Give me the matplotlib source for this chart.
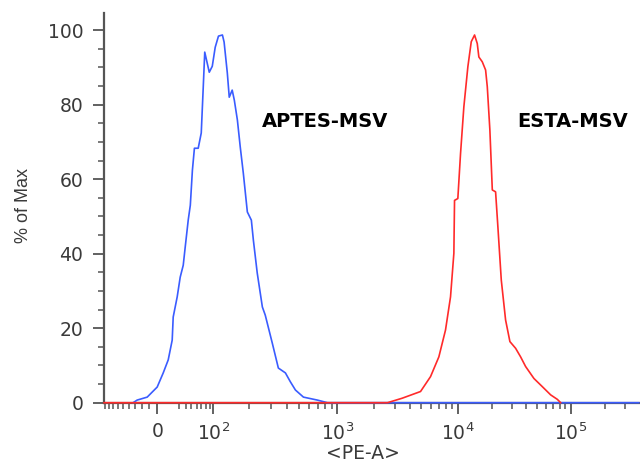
import numpy as np
import matplotlib
matplotlib.use('Agg')
import matplotlib.pyplot as plt
from matplotlib.ticker import FixedLocator, FixedFormatter

plt.rcParams['font.family'] = ['DejaVu Sans']
plt.rcParams['mathtext.fontset'] = 'dejavusans'

# APTES-MSV histogram: PE-A value vs % of max
aptes_pe = [-33, -27, -13, 0, 7.8, 14.4, 19.8, 21.2, 26.9, 31.4, 36.1, 39.3,
            44.4, 48.0, 51.8, 55.6, 63.2, 69.7, 74.2, 77.7, 89.0, 97.2, 104,
            111, 120, 124, 132, 137, 145, 151, 160, 169, 179, 193, 208, 216,
            232, 255, 269, 306, 342, 389, 426, 467, 540, 696, 835, 400000]
aptes_pct = [0, 0.7, 1.5, 4.2, 8.0, 11.5, 16.8, 23.0, 28.4, 33.7, 36.9, 41.8,
             49.1, 53.0, 62.4, 68.3, 68.3, 72.4, 84.7, 94.1, 88.7, 90.3, 95.4,
             98.4, 98.7, 96.8, 88.5, 82.0, 83.9, 81.2, 75.9, 68.6, 61.6, 51.2,
             49.0, 43.6, 34.8, 25.7, 23.5, 16.0, 9.3, 8.0, 5.6, 3.4, 1.5, 0.7,
             0, 0]

# ESTA-MSV histogram
esta_pe = [-92, 2610, 3460, 4920, 5960, 6990, 7940, 8740, 9320, 9440, 10060,
           10630, 11370, 12340, 13220, 14140, 14940, 15430, 16540, 17700,
           18320, 19310, 20290, 21690, 22730, 24360, 26590, 29030, 32610,
           36100, 39980, 47340, 56180, 66530, 76200, 81560]
esta_pct = [0, 0, 1.2, 3.0, 7.0, 12.3, 19.5, 28.4, 40.1, 54.3, 54.8, 66.9,
            79.4, 90.2, 96.9, 98.7, 96.4, 92.8, 91.5, 89.3, 84.8, 73.2, 57.1,
            56.6, 47.2, 32.9, 22.2, 16.4, 14.6, 12.3, 9.7, 6.5, 4.3, 2.1, 0.9, 0]

major_ticks = [0, 100, 1000, 10000, 100000]
major_labels = ['0', '$10^2$', '$10^3$', '$10^4$', '$10^5$']

# biexponential-like display scale (asinh, piecewise matched to decades)
anchor_x = np.array([-1000, -100, 0, 100, 1e3, 1e4, 1e5, 1e6])
anchor_u = np.arcsinh(anchor_x / 50.0)
anchor_p = np.array([-23, 101, 157, 213, 337, 457, 570, 683], dtype=float)


def fwd(x):
    return np.interp(np.arcsinh(np.asarray(x, dtype=float) / 50.0), anchor_u, anchor_p)


def inv(p):
    return 50.0 * np.sinh(np.interp(np.asarray(p, dtype=float), anchor_p, anchor_u))


fig = plt.figure(figsize=(6.4, 4.65), dpi=100)
ax = fig.add_axes([104 / 640, 62.3 / 465, 536 / 640, 389.7 / 465])
ax.set_xscale('function', functions=(fwd, inv))

ax.plot(aptes_pe, aptes_pct, color='#3a5cff', lw=1.2, clip_on=False, zorder=3)
ax.plot(esta_pe, esta_pct, color='#ff2a2a', lw=1.2, clip_on=False, zorder=3)

ax.set_xlim(-92, 4.1e5)
ax.set_ylim(0, 104.6)

minor = list(range(-90, 0, 10)) + list(range(30, 100, 10))
for d in [100, 1000, 10000, 100000]:
    minor += [k * d for k in range(2, 10) if k * d < 4e5]
ax.xaxis.set_major_locator(FixedLocator(major_ticks))
ax.xaxis.set_major_formatter(FixedFormatter(major_labels))
ax.xaxis.set_minor_locator(FixedLocator(minor))
ax.yaxis.set_major_locator(FixedLocator([0, 20, 40, 60, 80, 100]))
ax.yaxis.set_minor_locator(FixedLocator([v for v in range(5, 100, 5) if v % 20]))

for s in ['top', 'right']:
    ax.spines[s].set_visible(False)
for s in ['left', 'bottom']:
    ax.spines[s].set_color('#555555')
    ax.spines[s].set_linewidth(1.6)

ax.tick_params(which='major', length=8, width=1.3, color='#555555',
               labelsize=13.5, labelcolor='#3a3a3a')
ax.tick_params(which='minor', length=4, width=1.1, color='#555555')
ax.tick_params(axis='y', which='major', pad=7)
ax.tick_params(axis='x', which='major', pad=6)

fig.text(24 / 640, 1 - 205 / 465, '% of Max', rotation=90, ha='center',
         va='center', fontsize=13, color='#3a3a3a', family='Liberation Sans')
fig.text(363 / 640, 1 - 453 / 465, '<PE-A>', ha='center', va='center',
         fontsize=13.5, color='#3a3a3a')
fig.text(262 / 640, 1 - 121 / 465, 'APTES-MSV', fontsize=14,
         fontweight='bold', va='center')
fig.text(517 / 640, 1 - 121 / 465, 'ESTA-MSV', fontsize=14,
         fontweight='bold', va='center')

plt.savefig('out.png', dpi=100)
plt.close()
